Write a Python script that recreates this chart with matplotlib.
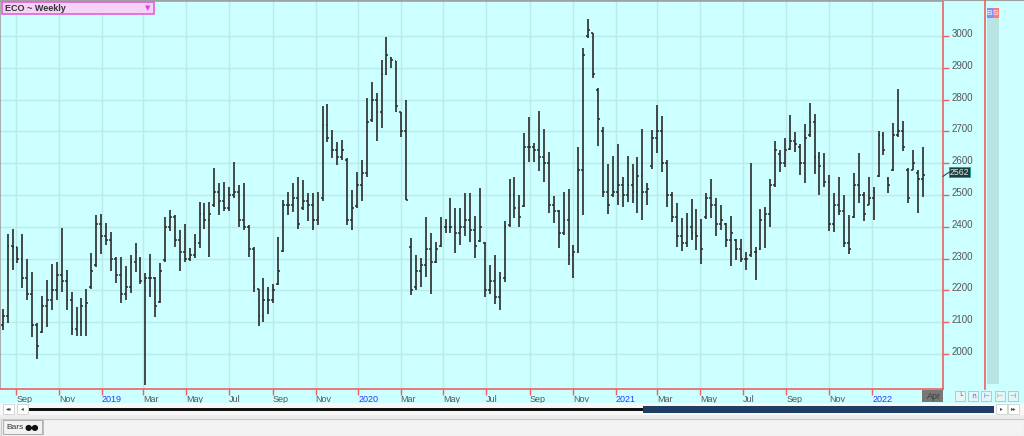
import numpy as np
import pandas as pd
import matplotlib
matplotlib.use('Agg')
import matplotlib.pyplot as plt
import matplotlib.dates as mdates
import matplotlib.transforms as mtransforms
from matplotlib.patches import Rectangle
from matplotlib.lines import Line2D

# ---------------- data (weekly OHLC) ----------------
first_week = '2018-08-13'
highs = [2142, 2378, 2394, 2337, 2378, 2299, 2258, 2098, 2183, 2233,
         2283, 2290, 2397, 2265, 2195, 2148, 2177, 2205, 2318, 2438,
         2441, 2413, 2384, 2306, 2306, 2277, 2312, 2350, 2306, 2255,
         2315, 2243, 2287, 2431, 2453, 2438, 2390, 2409, 2334, 2378,
         2479, 2475, 2479, 2585, 2538, 2541, 2526, 2604, 2532, 2538,
         2406, 2337, 2205, 2240, 2211, 2221, 2368, 2485, 2510, 2538,
         2557, 2548, 2507, 2507, 2510, 2780, 2787, 2705, 2667, 2672,
         2617, 2516, 2573, 2610, 2806, 2856, 2821, 2925, 2997, 2935,
         2922, 2762, 2799, 2365, 2312, 2302, 2431, 2381, 2353, 2431,
         2425, 2491, 2460, 2460, 2507, 2507, 2435, 2523, 2353, 2280,
         2312, 2258, 2419, 2551, 2557, 2500, 2695, 2746, 2664, 2765,
         2708, 2636, 2497, 2453, 2510, 2519, 2343, 2651, 2963, 3054,
         3010, 2837, 2714, 2598, 2623, 2661, 2557, 2623, 2598, 2620,
         2708, 2538, 2705, 2784, 2749, 2610, 2510, 2475, 2428, 2444,
         2488, 2457, 2425, 2507, 2551, 2491, 2469, 2412, 2435, 2362,
         2362, 2321, 2601, 2337, 2457, 2463, 2551, 2670, 2642, 2680,
         2752, 2699, 2661, 2724, 2790, 2755, 2636, 2633, 2563, 2507,
         2557, 2501, 2438, 2570, 2633, 2510, 2557, 2526, 2702, 2699,
         2557, 2727, 2834, 2733, 2585, 2642, 2579, 2651]
lows = [2076, 2098, 2265, 2287, 2208, 2170, 2054, 1985, 2066, 2085,
        2139, 2170, 2195, 2139, 2060, 2057, 2057, 2057, 2205, 2274,
        2315, 2343, 2262, 2224, 2161, 2170, 2192, 2258, 2221, 1903,
        2180, 2117, 2161, 2290, 2387, 2337, 2262, 2290, 2293, 2302,
        2334, 2394, 2306, 2463, 2438, 2450, 2450, 2491, 2400, 2390,
        2306, 2195, 2089, 2101, 2126, 2161, 2217, 2321, 2438, 2447,
        2394, 2453, 2419, 2390, 2406, 2482, 2667, 2617, 2595, 2610,
        2406, 2390, 2460, 2480, 2557, 2730, 2670, 2711, 2878, 2900,
        2762, 2683, 2485, 2186, 2202, 2211, 2243, 2189, 2287, 2337,
        2381, 2381, 2318, 2343, 2372, 2353, 2302, 2353, 2180, 2189,
        2158, 2139, 2227, 2400, 2428, 2400, 2463, 2604, 2604, 2576,
        2541, 2444, 2412, 2334, 2375, 2280, 2240, 2318, 2438, 2994,
        2868, 2655, 2494, 2441, 2494, 2469, 2463, 2479, 2475, 2444,
        2422, 2469, 2582, 2633, 2573, 2463, 2416, 2337, 2324, 2337,
        2359, 2328, 2283, 2425, 2428, 2372, 2390, 2337, 2277, 2296,
        2290, 2265, 2305, 2233, 2328, 2334, 2400, 2526, 2573, 2589,
        2642, 2636, 2563, 2538, 2683, 2567, 2501, 2526, 2387, 2384,
        2438, 2337, 2315, 2428, 2475, 2419, 2469, 2422, 2557, 2626,
        2507, 2576, 2683, 2639, 2475, 2579, 2444, 2494]
opens = [2090, 2118, 2340, 2335, 2300, 2240, 2190, 2090, 2070, 2150,
         2170, 2200, 2250, 2230, 2170, 2080, 2100, 2150, 2210, 2280,
         2410, 2370, 2360, 2300, 2250, 2190, 2210, 2290, 2300, 2230,
         2240, 2240, 2165, 2295, 2400, 2430, 2360, 2320, 2300, 2310,
         2350, 2440, 2420, 2470, 2510, 2480, 2460, 2500, 2510, 2420,
         2400, 2330, 2205, 2120, 2170, 2170, 2220, 2325, 2470, 2470,
         2490, 2460, 2480, 2470, 2420, 2490, 2720, 2680, 2640, 2620,
         2610, 2420, 2465, 2530, 2570, 2735, 2800, 2760, 2880, 2930,
         2920, 2760, 2700, 2337, 2210, 2260, 2280, 2330, 2290, 2340,
         2400, 2400, 2400, 2380, 2400, 2420, 2390, 2355, 2350, 2200,
         2230, 2180, 2240, 2405, 2500, 2460, 2465, 2650, 2650, 2640,
         2620, 2600, 2470, 2450, 2380, 2420, 2310, 2320, 2580, 3000,
         3010, 2830, 2700, 2510, 2500, 2510, 2530, 2500, 2530, 2510,
         2560, 2510, 2590, 2680, 2700, 2600, 2500, 2430, 2370, 2350,
         2400, 2380, 2370, 2430, 2490, 2470, 2410, 2410, 2360, 2360,
         2330, 2300, 2310, 2320, 2330, 2420, 2440, 2530, 2630, 2600,
         2645, 2670, 2650, 2600, 2690, 2730, 2620, 2590, 2540, 2410,
         2470, 2450, 2350, 2430, 2530, 2500, 2470, 2490, 2560, 2690,
         2550, 2580, 2690, 2700, 2580, 2580, 2570, 2550]
closes = [2118, 2340, 2335, 2300, 2240, 2190, 2090, 2025, 2150, 2170,
          2200, 2250, 2230, 2170, 2080, 2100, 2150, 2160, 2260, 2410,
          2370, 2360, 2300, 2250, 2190, 2210, 2290, 2320, 2230, 2240,
          2240, 2150, 2260, 2400, 2430, 2360, 2320, 2300, 2310, 2350,
          2440, 2420, 2440, 2510, 2480, 2460, 2500, 2510, 2420, 2400,
          2330, 2210, 2120, 2170, 2170, 2200, 2260, 2470, 2470, 2490,
          2410, 2480, 2470, 2420, 2430, 2720, 2680, 2640, 2620, 2640,
          2420, 2460, 2530, 2570, 2730, 2800, 2760, 2880, 2940, 2925,
          2780, 2700, 2485, 2200, 2260, 2280, 2330, 2290, 2330, 2400,
          2400, 2400, 2380, 2400, 2420, 2390, 2340, 2400, 2200, 2230,
          2180, 2240, 2400, 2500, 2460, 2430, 2650, 2650, 2640, 2620,
          2600, 2470, 2450, 2380, 2420, 2310, 2320, 2580, 2940, 3020,
          2880, 2740, 2510, 2470, 2510, 2530, 2500, 2530, 2510, 2560,
          2510, 2520, 2680, 2700, 2600, 2500, 2430, 2370, 2350, 2400,
          2380, 2370, 2330, 2490, 2470, 2410, 2420, 2360, 2380, 2330,
          2300, 2300, 2320, 2320, 2420, 2440, 2530, 2640, 2600, 2640,
          2670, 2660, 2600, 2680, 2730, 2620, 2590, 2540, 2410, 2470,
          2450, 2350, 2330, 2530, 2500, 2440, 2490, 2510, 2690, 2640,
          2530, 2690, 2700, 2650, 2490, 2600, 2550, 2562]

month_tick_dates = ['2018-09-01', '2018-11-01', '2019-01-01', '2019-03-01', '2019-05-01',
                    '2019-07-01', '2019-09-01', '2019-11-01', '2020-01-01', '2020-03-01',
                    '2020-05-01', '2020-07-01', '2020-09-01', '2020-11-01', '2021-01-01',
                    '2021-03-01', '2021-05-01', '2021-07-01', '2021-09-01', '2021-11-01',
                    '2022-01-01']
month_tick_labels = ['Sep', 'Nov', '2019', 'Mar', 'May', 'Jul', 'Sep', 'Nov', '2020', 'Mar',
                     'May', 'Jul', 'Sep', 'Nov', '2021', 'Mar', 'May', 'Jul', 'Sep', 'Nov',
                     '2022']
price_ticks = [2000, 2100, 2200, 2300, 2400, 2500, 2600, 2700, 2800, 2900, 3000]
last_price = 2562
chart_title = 'ECO ~ Weekly'
current_label = 'Apr'

# ---------------- figure ----------------
W, H = 1024, 436
BG = '#ccffff'
GRID = '#bce9e9'
FONT = ['Liberation Sans', 'DejaVu Sans']
plt.rcParams['font.family'] = FONT

fig = plt.figure(figsize=(W / 100, H / 100), dpi=100, facecolor=BG)


def prect(x, y, w, h, **kw):
    r = Rectangle((x / W, 1 - (y + h) / H), w / W, h / H, transform=fig.transFigure, **kw)
    fig.add_artist(r)
    return r


def ptext(x, y, s, **kw):
    return fig.text(x / W, 1 - y / H, s, **kw)


def pline(xs, ys, **kw):
    fig.add_artist(Line2D([v / W for v in xs], [1 - v / H for v in ys],
                          transform=fig.transFigure, **kw))


# main chart axes: x 0..943 px, y 1..389 px
ax = fig.add_axes([0 / W, (H - 389) / H, 943 / W, 388 / H])
ax.set_facecolor(BG)

dates = pd.date_range(first_week, periods=len(highs), freq='7D')
xn = mdates.date2num(dates)
x0 = mdates.date2num(pd.Timestamp(first_week))
ax.set_xlim(x0 - 3.84, x0 + 1337.7)
ax.set_ylim(1890, 3110)

# grid
tick_nums = mdates.date2num(pd.to_datetime(month_tick_dates))
for t in tick_nums:
    ax.axvline(t, color=GRID, lw=1.0, zorder=1)
for p in price_ticks:
    ax.axhline(p, color=GRID, lw=1.0, zorder=1)

bar_col = '#2a2a2a'
ax.vlines(xn, lows, highs, color=bar_col, lw=1.2, zorder=3)
ax.hlines(opens, xn - 2.6, xn, color=bar_col, lw=1.1, zorder=3)
ax.hlines(closes, xn, xn + 2.6, color=bar_col, lw=1.1, zorder=3)

# axes styling
for s in ['top', 'left']:
    ax.spines[s].set_color('#a0a0a0')
    ax.spines[s].set_linewidth(1.2)
for s in ['right', 'bottom']:
    ax.spines[s].set_color('#f06060')
    ax.spines[s].set_linewidth(1.2)

ax.set_xticks(tick_nums)
ax.set_xticklabels(month_tick_labels)
ax.tick_params(axis='x', direction='out', length=4, width=1, color='#f06060',
               pad=0.5, labelsize=6.5)
for lab, txt in zip(ax.get_xticklabels(), month_tick_labels):
    lab.set_ha('left')
    lab.set_color('#3333ff' if txt.isdigit() else '#555555')

ax.yaxis.tick_right()
ax.set_yticks(price_ticks)
ax.set_yticklabels([str(p) for p in price_ticks])
ax.tick_params(axis='y', direction='out', length=4, width=1, color='#f06060',
               pad=2.5, labelsize=7, labelcolor='#555555')
lift = mtransforms.ScaledTranslation(0, 3 / 100, fig.dpi_scale_trans)
for lab in ax.get_yticklabels():
    lab.set_transform(lab.get_transform() + lift)

# top border
pline([0, W], [0.5, 0.5], color='#a0a0a0', lw=1.5)

# title box
prect(1.5, 2, 152, 12.5, facecolor='#f7d2f7', edgecolor='#e060e0', lw=1.2)
ptext(5, 8.5, chart_title, fontsize=6.5, fontweight='bold', color='#333333', va='center')
ptext(148, 8.5, '\u25bc', fontsize=5, color='#e040e0', va='center', ha='center',
      family=['DejaVu Sans'])

# last price label
yl = ax.transData.transform((0, last_price))[1]
ypx = H - yl
pline([943, 949], [ypx + 1, ypx - 3], color='#2a5050', lw=0.8)
prect(949, ypx - 8.5, 21, 10.5, facecolor='#1f3c3c', edgecolor='#10a0a0', lw=0.6)
ptext(959.5, ypx - 3.2, str(last_price), fontsize=6.3, color='#e0f0f0', va='center', ha='center')

# right panel
pline([985, 985], [0, 389], color='#f06060', lw=1.2)
prect(986.5, 18, 12, 366, facecolor='#b9e4e4', edgecolor='none')
prect(986.5, 8.5, 6, 9.5, facecolor='#8a8aff', edgecolor='none')
prect(992.5, 8.5, 6, 9.5, facecolor='#ff7777', edgecolor='none')
ptext(989.5, 13.5, 'B', fontsize=6, color='white', va='center', ha='center')
ptext(995.5, 13.5, 'S', fontsize=6, color='white', va='center', ha='center')

# current period box on the date strip
prect(922, 390, 21, 12, facecolor='#777777', edgecolor='none')
ptext(927, 396.5, current_label, fontsize=6.5, color='#3a3a3a', va='center')

# small icons bottom right
icon_cols = ['#ff3030', '#3050ff', '#3050ff', '#30c030', '#ff3030']
icon_glyphs = ['\u2514', '\u2229', '\u22a2', '\u22a2', '\u22a3']
for i, (c, g) in enumerate(zip(icon_cols, icon_glyphs)):
    xi = 955 + i * 13.2
    prect(xi, 391, 10, 10, facecolor='#e6f6f6', edgecolor='#9cc9c9', lw=0.6)
    ptext(xi + 5, 396, g, fontsize=5, color=c, va='center', ha='center', family=['DejaVu Sans'])

# scrollbar
prect(0, 403, W, 12, facecolor='#f7f7f7', edgecolor='none')
prect(0, 415, W, 21, facecolor='#ececec', edgecolor='none')
prect(0.5, 418.5, W - 1, 17, facecolor='#f3f3f3', edgecolor='#c8c8c8', lw=0.8)
for bx, g in [(3, '\u25c2\u25c2'), (17, '\u25c2'), (996, '\u25b8'), (1008, '\u25b8\u25b8')]:
    prect(bx, 404, 11, 10, facecolor='white', edgecolor='#cfcfcf', lw=0.6)
    ptext(bx + 5.5, 409, g, fontsize=4, color='#444444', va='center', ha='center',
          family=['DejaVu Sans'])
prect(29, 408, 615, 2.8, facecolor='#111111', edgecolor='none')
prect(643, 406, 351, 6.5, facecolor='#1f3e66', edgecolor='none')

# bottom bar
prect(2.5, 420, 39, 14, facecolor='#f3f3f3', edgecolor='#b0b0b0', lw=0.8)
ptext(6, 427, 'Bars', fontsize=6, color='#333333', va='center')
ptext(32, 427, '\u25cf\u25cf', fontsize=6, color='#111111', va='center', ha='center',
      family=['DejaVu Sans'])
pline([43, 43], [420, 434], color='#c0c0c0', lw=0.8)

fig.savefig('out.png', dpi=100, facecolor=BG)
